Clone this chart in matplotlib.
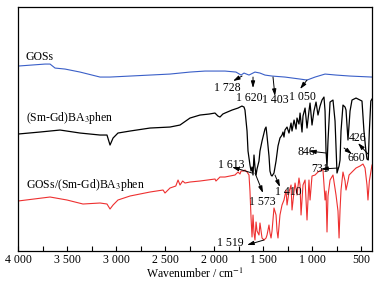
import matplotlib
matplotlib.use("Agg")
import matplotlib.pyplot as plt
from matplotlib.ticker import MultipleLocator, FuncFormatter
import numpy as np

plt.rcParams["font.family"] = ["Liberation Serif", "DejaVu Serif"]
plt.rcParams["mathtext.fontset"] = "stix"

# GOSs (blue)
wn_gos = [4000, 3724, 3673, 3622, 3520, 3367, 3163, 3061, 2857, 2653, 2449, 2245,
          2092, 1888, 1776, 1724, 1694, 1643, 1582, 1531, 1480, 1408, 1276, 1122,
          1051, 969, 867, 755, 612, 388]
t_gos = [185, 187, 187, 183, 182, 179, 174, 174, 175, 176, 177, 179,
         180, 180, 179, 176, 178, 176, 179, 178, 176, 175, 174, 172,
         171, 174, 177, 176, 175, 174]

# (Sm-Gd)BA3phen (black)
wn_cpx = [4000, 3776, 3571, 3367, 3163, 3092, 3061, 3030, 2980, 2857, 2653, 2449,
          2347, 2245, 2143, 2050, 1990, 1960, 1939, 1910, 1888, 1816, 1755, 1715,
          1694, 1684, 1663, 1653, 1633, 1622, 1612, 1602, 1592, 1582, 1571, 1561,
          1541, 1531, 1510, 1490, 1480, 1469, 1459, 1439, 1429, 1418, 1408, 1388,
          1367, 1347, 1327, 1306, 1296, 1286, 1276, 1255, 1235, 1214, 1204, 1183,
          1163, 1153, 1133, 1122, 1102, 1092, 1071, 1051, 1031, 1020, 1000, 980,
          959, 939, 918, 898, 878, 867, 857, 847, 837, 816, 786, 765,
          745, 724, 714, 704, 684, 663, 653, 633, 612, 592, 551, 510,
          490, 470, 450, 439, 426, 415, 400, 388]
t_cpx = [117, 119, 121, 118, 116, 116, 106, 113, 118, 120, 123, 124,
         126, 133, 136, 137, 138, 135, 134, 137, 138, 141, 143, 145,
         144, 141, 120, 100, 86, 80, 84, 76, 96, 84, 76, 82,
         90, 100, 110, 118, 122, 124, 115, 95, 80, 76, 75, 78,
         90, 105, 113, 116, 119, 114, 121, 124, 118, 128, 120, 131,
         122, 133, 127, 138, 119, 135, 143, 123, 140, 148, 126, 140,
         149, 136, 145, 151, 154, 140, 100, 84, 110, 149, 151, 130,
         78, 85, 91, 120, 146, 144, 141, 111, 140, 151, 153, 151,
         150, 120, 100, 92, 91, 120, 150, 152]

# GOSs/(Sm-Gd)BA3phen (red)
wn_mix = [4000, 3673, 3500, 3337, 3163, 3092, 3061, 3030, 2980, 2857, 2653, 2520,
          2500, 2449, 2390, 2367, 2347, 2320, 2296, 2245, 2143, 1990, 1980, 1939,
          1888, 1786, 1755, 1735, 1724, 1694, 1684, 1663, 1643, 1633, 1622, 1612,
          1602, 1592, 1582, 1571, 1561, 1541, 1531, 1510, 1490, 1469, 1459, 1439,
          1429, 1418, 1408, 1388, 1367, 1357, 1347, 1327, 1306, 1286, 1265, 1255,
          1235, 1214, 1204, 1183, 1173, 1153, 1133, 1122, 1112, 1092, 1071, 1051,
          1031, 1020, 1000, 969, 939, 908, 888, 867, 857, 847, 837, 816,
          786, 755, 735, 724, 714, 704, 684, 663, 653, 633, 622, 592,
          551, 510, 480, 459, 439, 429, 415, 388]
t_mix = [50, 54, 51, 47, 48, 47, 42, 46, 51, 55, 59, 61,
         58, 63, 65, 71, 66, 70, 68, 69, 70, 72, 70, 74,
         74, 76, 79, 77, 80, 80, 81, 79, 76, 60, 33, 14,
         36, 18, 11, 29, 20, 16, 28, 13, 11, 13, 16, 26,
         18, 13, 20, 43, 36, 20, 13, 36, 46, 51, 61, 46,
         59, 66, 41, 60, 68, 56, 73, 66, 36, 66, 71, 31,
         71, 51, 75, 76, 79, 81, 81, 51, 60, 19, 55, 71,
         76, 56, 40, 13, 41, 61, 79, 70, 61, 70, 76, 79,
         83, 85, 87, 83, 66, 51, 70, 86]

# series labels: (text, x, y)
series_labels = [("GOSs", 3920, 194),
                 ("(Sm-Gd)BA$_3$phen", 3920, 133),
                 ("GOSs/(Sm-Gd)BA$_3$phen", 3920, 66)]

# peak annotations: (label, text x, text y, arrow start, arrow end)
peaks = [("1 728", 1860, 163, (1714, 175), (1806, 170)),
         ("1 620", 1642, 153, (1602, 174), (1602, 163)),
         ("1 403", 1378, 151, (1398, 174), (1378, 155)),
         ("1 050", 1102, 154, (1051, 171), (1122, 162)),
         ("1 613", 1827, 86, (1612, 78), (1816, 84)),
         ("1 573", 1510, 49, (1582, 78), (1500, 58)),
         ("1 410", 1245, 59, (1378, 76), (1327, 64)),
         ("1 519", 1837, 8, (1490, 11), (1663, 6)),
         ("846", 1061, 99, (857, 98), (1031, 100)),
         ("731", 918, 82, (735, 83), (908, 82)),
         ("660", 551, 93, (673, 103), (592, 97)),
         ("426", 531, 113, (429, 97), (531, 108))]

fig = plt.figure(figsize=(3.79, 2.81), dpi=100)
ax = fig.add_axes([0.0475, 0.1068, 0.934, 0.868])

ax.plot(wn_gos, t_gos, color="#3a5fc8", lw=0.8)
ax.plot(wn_cpx, t_cpx, color="black", lw=0.9)
ax.plot(wn_mix, t_mix, color="#ee3030", lw=0.8)

for txt, x, y in series_labels:
    ax.text(x, y, txt, fontsize=8.5, ha="left", va="center")

for txt, tx, ty, start, end in peaks:
    ax.annotate("", xy=end, xytext=start,
                arrowprops=dict(arrowstyle="-|>,head_length=0.5,head_width=0.15",
                                color="black", lw=0.7, mutation_scale=8,
                                shrinkA=0, shrinkB=0))
    ax.text(tx, ty, txt, fontsize=8.5, ha="center", va="center")

ax.set_xlim(4000, 388)
ax.set_ylim(0, 244)
ax.xaxis.set_major_locator(MultipleLocator(500))
ax.xaxis.set_minor_locator(MultipleLocator(250))
ax.xaxis.set_major_formatter(FuncFormatter(lambda v, p: f"{int(v):,}".replace(",", " ")))
ax.tick_params(axis="x", which="both", direction="in", length=3.5, width=0.8,
               labelsize=8.5, pad=2)
ax.set_yticks([])
for s in ax.spines.values():
    s.set_linewidth(0.9)

ax.set_xlabel("Wavenumber / cm$^{-1}$", fontsize=8.5, labelpad=1)

plt.savefig("out.png", dpi=100)
